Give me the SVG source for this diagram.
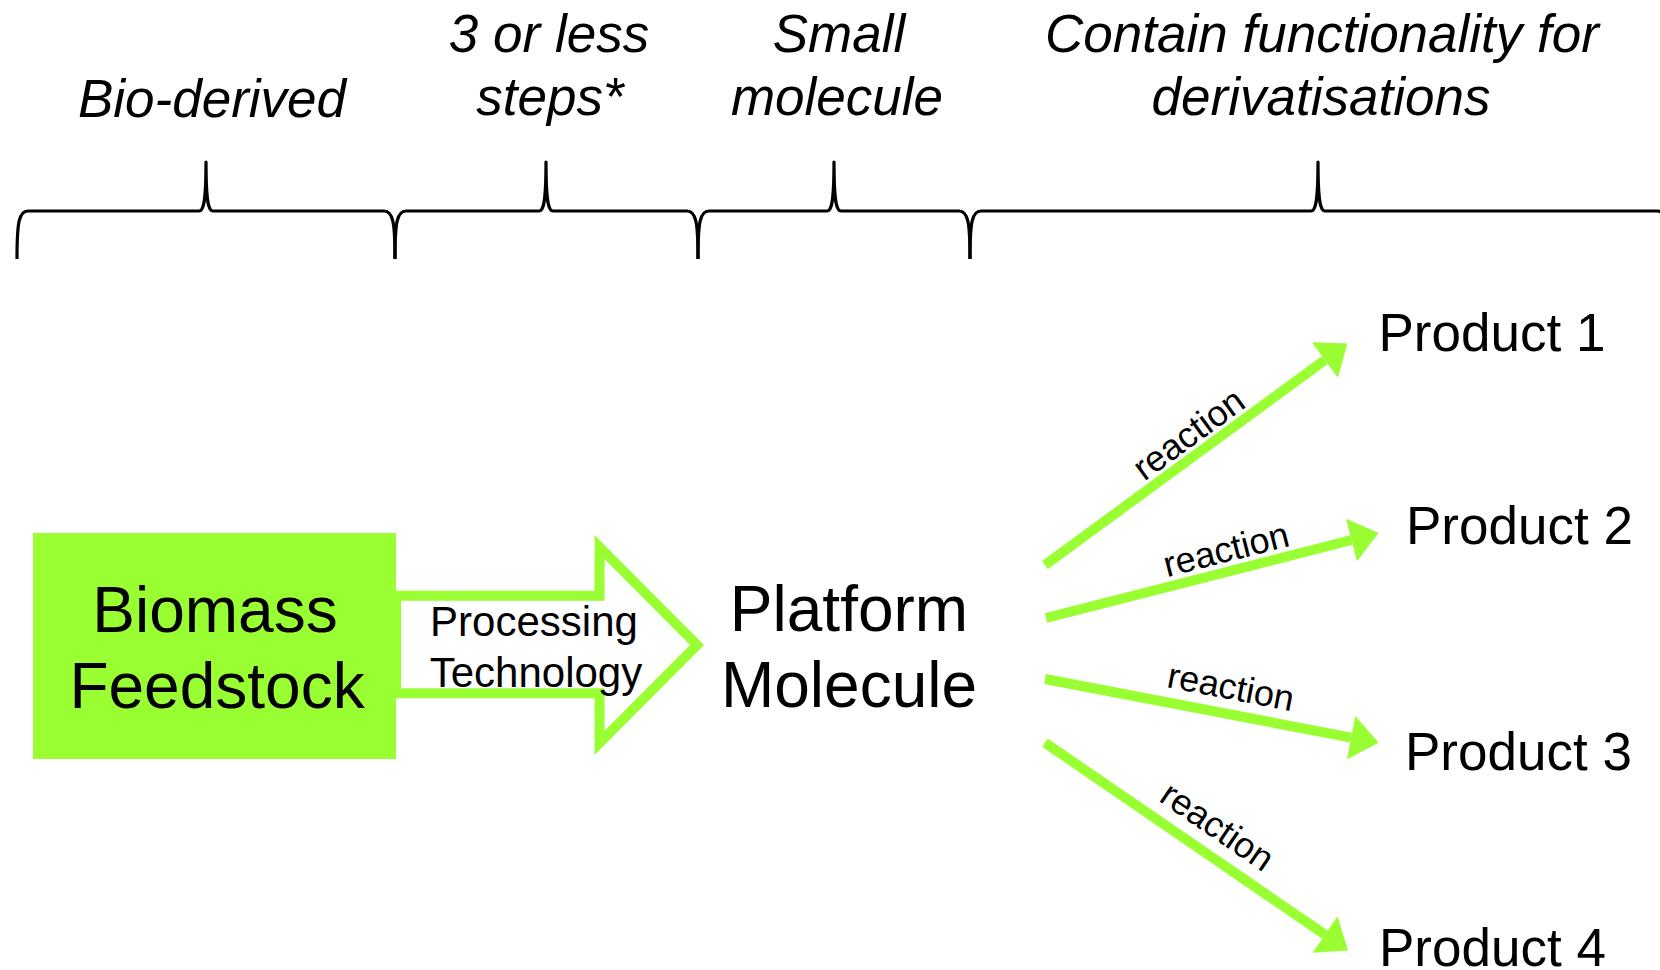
<svg xmlns="http://www.w3.org/2000/svg" width="1660" height="970" viewBox="0 0 1660 970">
  <style>
    .lbl { font-family: "Liberation Sans", Arial, sans-serif; fill: #000; }
    .top { font-size: 53px; font-style: italic; text-anchor: middle; }
    .big { font-size: 64px; text-anchor: middle; }
    .prod { font-size: 53px; }
    .proc { font-size: 42px; text-anchor: middle; }
    .rx { font-size: 36px; text-anchor: middle; }
    .brace { fill: none; stroke: #000; stroke-width: 3.2; stroke-linejoin: round; }
    .rline { fill: none; stroke: #99FF33; stroke-width: 10; stroke-linecap: butt; marker-end: url(#head); }
  </style>
  <defs>
    <marker id="head" markerUnits="userSpaceOnUse" markerWidth="30" markerHeight="46" viewBox="0 0 30 46" refX="1" refY="23" orient="auto">
      <path d="M1,1 L29,23 L1,45 Z" fill="#99FF33"/>
    </marker>
  </defs>
  <rect x="0" y="0" width="1660" height="970" fill="#fff"/>

  <g id="criteria">
    <g id="brace-bio">
      <path class="brace" d="M17,259 C17,222 19,211 28,211 L199,211 C204,211 206,200 206,162 C206,200 208,211 213,211 L384,211 C393,211 395,222 395,259"/>
      <text class="lbl top" x="212" y="117">Bio-derived</text>
    </g>
    <g id="brace-steps">
      <path class="brace" d="M395,259 C395,222 397,211 406,211 L539,211 C544,211 546,200 546,162 C546,200 548,211 553,211 L687,211 C696,211 698,222 698,259"/>
      <text class="lbl top" x="550" y="52"><tspan x="549" y="52">3 or less</tspan><tspan x="550" y="115">steps*</tspan></text>
    </g>
    <g id="brace-small">
      <path class="brace" d="M698,259 C698,222 700,211 709,211 L827,211 C832,211 834,200 834,162 C834,200 836,211 841,211 L959,211 C968,211 970,222 970,259"/>
      <text class="lbl top" x="838" y="52"><tspan x="839" y="52">Small</tspan><tspan x="837" y="115">molecule</tspan></text>
    </g>
    <g id="brace-func">
      <path class="brace" d="M970,259 C970,222 972,211 981,211 L1311,211 C1316,211 1318,200 1318,162 C1318,200 1320,211 1325,211 L1657,211 C1666,211 1668,222 1668,259"/>
      <text class="lbl top" x="1322" y="52"><tspan x="1322" y="52">Contain functionality for</tspan><tspan x="1321" y="115">derivatisations</tspan></text>
    </g>
  </g>

  <g id="connectors">
    <polygon id="processing-arrow" points="396,595.8 599.5,595.8 599.5,547 697,645 599.5,743 599.5,693.3 396,693.3" fill="#fff" stroke="#99FF33" stroke-width="10" stroke-linejoin="miter"/>
    <text class="lbl proc" x="534" y="636">Processing</text>
    <text class="lbl proc" x="536" y="686.5">Technology</text>

    <line class="rline" x1="1045" y1="565" x2="1324.9" y2="360"/>
    <line class="rline" x1="1046" y1="618" x2="1351.5" y2="540"/>
    <line class="rline" x1="1045" y1="679" x2="1351.2" y2="737.6"/>
    <line class="rline" x1="1045" y1="742.7" x2="1325" y2="934.7"/>

    <text class="lbl rx" transform="translate(1195.8,443.9) rotate(-36.22)">reaction</text>
    <text class="lbl rx" transform="translate(1229,561.4) rotate(-14.32)">reaction</text>
    <text class="lbl rx" transform="translate(1228.6,699.1) rotate(10.84)">reaction</text>
    <text class="lbl rx" transform="translate(1210.5,836.4) rotate(34.44)">reaction</text>
  </g>

  <g id="biomass">
    <rect x="33" y="533" width="363" height="226" fill="#99FF33"/>
    <text class="lbl big" x="215" y="632">Biomass</text>
    <text class="lbl big" x="217" y="708">Feedstock</text>
  </g>

  <g id="platform">
    <text class="lbl big" x="849" y="631">Platform</text>
    <text class="lbl big" x="849" y="707">Molecule</text>
  </g>

  <g id="product1"><text class="lbl prod" x="1378.5" y="351">Product 1</text></g>
  <g id="product2"><text class="lbl prod" x="1406" y="543.5">Product 2</text></g>
  <g id="product3"><text class="lbl prod" x="1405" y="770">Product 3</text></g>
  <g id="product4"><text class="lbl prod" x="1379" y="966">Product 4</text></g>
</svg>
